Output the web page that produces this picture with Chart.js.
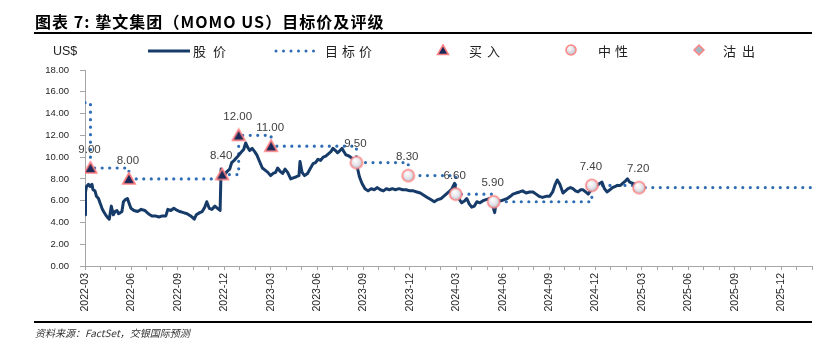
<!DOCTYPE html>
<html><head><meta charset="utf-8">
<script src="https://cdn.jsdelivr.net/npm/chart.js@4.4.1/dist/chart.umd.min.js"></script>
<style>
html,body{margin:0;padding:0;background:#fff;}
#wrap{position:relative;width:836px;height:354px;overflow:hidden;background:#fff;}
#c{position:absolute;left:0;top:0;}
.t{position:absolute;white-space:nowrap;}
#title{left:35px;top:11px;font:bold 16px 'Noto Sans CJK SC',sans-serif;color:#000;letter-spacing:1.05px;line-height:20px;}
.rule{position:absolute;left:34px;width:778px;height:2px;background:#000;}
.leg{top:42px;font:13px 'Noto Sans CJK SC',sans-serif;color:#222;line-height:18px;}
#unit{left:53px;top:43px;font:12.5px 'Liberation Sans',Arial,sans-serif;color:#222;line-height:16px;}
#src{left:35px;top:326px;font:italic 10px 'Noto Sans CJK SC',sans-serif;color:#333;line-height:14px;}
svg{position:absolute;}
</style></head>
<body><div id="wrap">
<canvas id="c" width="836" height="354"></canvas>
<div id="title" class="t">图表 7: 挚文集团（MOMO US）目标价及评级</div>
<div class="rule" style="top:32px"></div>
<div id="unit" class="t">US$</div>
<svg style="left:148px;top:48px" width="44" height="6"><line x1="0" y1="3" x2="42" y2="3" stroke="#173B69" stroke-width="3"/></svg>
<div class="t leg" style="left:193px;letter-spacing:7px">股价</div>
<svg style="left:274px;top:48px" width="46" height="6"><line x1="2" y1="3" x2="40" y2="3" stroke="#2E6DB4" stroke-width="3" stroke-linecap="round" stroke-dasharray="0 7.5"/></svg>
<div class="t leg" style="left:325px;letter-spacing:4px">目标价</div>
<svg style="left:436px;top:43px" width="14" height="14"><polygon points="7,2 12.5,11.5 1.5,11.5" fill="#1C2A5A" stroke="#FF7F80" stroke-width="1.5"/></svg>
<div class="t leg" style="left:469px;letter-spacing:5px">买入</div>
<svg style="left:564px;top:43px" width="14" height="14"><defs><radialGradient id="g1" cx="0.4" cy="0.35" r="0.7"><stop offset="0" stop-color="#ffffff"/><stop offset="1" stop-color="#b9b9c4"/></radialGradient></defs><circle cx="7" cy="7" r="5" fill="url(#g1)" stroke="#FF8585" stroke-width="1.5"/></svg>
<div class="t leg" style="left:598px;letter-spacing:4px">中性</div>
<svg style="left:692px;top:43px" width="14" height="14"><polygon points="7,2 12,7 7,12 2,7" fill="#A2B6C2" stroke="#FF8585" stroke-width="1.5"/></svg>
<div class="t leg" style="left:723px;letter-spacing:6px">沽出</div>
<div class="rule" style="top:321px"></div>
<div id="src" class="t">资料来源：FactSet，交银国际预测</div>
</div>
<script>
// ---------- DATA ----------
const priceDates = ['2022-03-01','2022-03-02','2022-03-04','2022-03-08','2022-03-11','2022-03-15','2022-03-17','2022-03-21','2022-03-24','2022-03-28','2022-03-31','2022-04-04','2022-04-07','2022-04-11','2022-04-14','2022-04-18','2022-04-20','2022-04-22','2022-04-26','2022-04-29','2022-05-03','2022-05-06','2022-05-10','2022-05-13','2022-05-16','2022-05-20','2022-05-24','2022-05-27','2022-05-31','2022-06-06','2022-06-13','2022-06-20','2022-06-27','2022-07-04','2022-07-11','2022-07-18','2022-07-25','2022-08-01','2022-08-08','2022-08-12','2022-08-18','2022-08-24','2022-08-31','2022-09-05','2022-09-12','2022-09-19','2022-09-26','2022-10-03','2022-10-07','2022-10-14','2022-10-19','2022-10-24','2022-10-28','2022-11-02','2022-11-07','2022-11-13','2022-11-18','2022-11-23','2022-11-25','2022-11-29','2022-12-02','2022-12-07','2022-12-12','2022-12-16','2022-12-21','2022-12-27','2023-01-03','2023-01-09','2023-01-13','2023-01-17','2023-01-21','2023-01-26','2023-01-31','2023-02-04','2023-02-09','2023-02-14','2023-02-19','2023-02-24','2023-03-01','2023-03-06','2023-03-11','2023-03-15','2023-03-20','2023-03-25','2023-03-30','2023-04-04','2023-04-10','2023-04-15','2023-04-21','2023-04-26','2023-04-28','2023-05-02','2023-05-07','2023-05-13','2023-05-18','2023-05-24','2023-05-29','2023-06-03','2023-06-08','2023-06-13','2023-06-18','2023-06-23','2023-06-28','2023-07-02','2023-07-07','2023-07-11','2023-07-16','2023-07-20','2023-07-24','2023-07-28','2023-08-03','2023-08-09','2023-08-15','2023-08-20','2023-08-24','2023-08-29','2023-09-04','2023-09-10','2023-09-16','2023-09-22','2023-09-28','2023-10-04','2023-10-10','2023-10-16','2023-10-22','2023-10-28','2023-11-03','2023-11-10','2023-11-17','2023-11-24','2023-12-01','2023-12-08','2023-12-15','2023-12-22','2023-12-29','2024-01-05','2024-01-12','2024-01-19','2024-01-26','2024-02-02','2024-02-09','2024-02-16','2024-02-22','2024-02-27','2024-03-01','2024-03-06','2024-03-12','2024-03-18','2024-03-22','2024-03-27','2024-04-01','2024-04-06','2024-04-11','2024-04-17','2024-04-23','2024-04-29','2024-05-06','2024-05-10','2024-05-16','2024-05-19','2024-05-24','2024-05-30','2024-06-04','2024-06-10','2024-06-16','2024-06-21','2024-06-27','2024-07-04','2024-07-10','2024-07-17','2024-07-24','2024-07-31','2024-08-06','2024-08-12','2024-08-19','2024-08-26','2024-09-02','2024-09-08','2024-09-13','2024-09-17','2024-09-22','2024-09-28','2024-10-03','2024-10-08','2024-10-13','2024-10-18','2024-10-23','2024-10-28','2024-11-02','2024-11-07','2024-11-12','2024-11-17','2024-11-21','2024-11-25','2024-11-30','2024-12-05','2024-12-10','2024-12-14','2024-12-19','2024-12-24','2024-12-30','2025-01-04','2025-01-09','2025-01-14','2025-01-20','2025-01-25','2025-01-30','2025-02-03','2025-02-07','2025-02-12','2025-02-17'];
const priceValues = [4.7,6.8,7.3,7.5,7.3,7.5,7.0,6.9,6.4,6.2,5.8,5.3,5.0,4.7,4.5,4.3,4.9,5.5,4.7,5.0,5.1,4.8,4.9,5.0,5.9,6.1,6.2,5.8,5.3,5.1,5.0,5.2,5.1,4.8,4.6,4.6,4.5,4.6,4.6,5.2,5.1,5.3,5.1,5.0,4.9,4.8,4.6,4.3,4.7,4.9,5.0,5.4,5.9,5.3,5.2,5.5,5.3,5.1,8.9,8.2,8.4,8.7,8.9,9.5,9.7,10.0,10.4,10.7,11.3,10.9,10.6,10.8,10.5,10.2,9.6,9.0,8.8,8.6,8.3,8.5,8.6,9.0,8.7,8.5,8.9,8.6,8.0,8.1,8.2,8.3,9.6,8.6,8.3,8.5,8.9,9.4,9.5,9.8,9.7,10.0,10.1,10.3,10.5,10.8,10.6,10.4,10.6,10.8,10.5,10.2,10.1,9.9,9.5,9.0,8.2,7.6,7.1,6.9,7.1,7.0,7.2,7.0,6.9,7.1,7.0,7.1,7.0,7.1,7.0,7.0,6.9,6.9,6.8,6.7,6.5,6.3,6.1,5.9,6.1,6.2,6.5,6.8,7.1,7.6,6.6,6.2,5.8,6.0,6.2,5.7,5.4,5.5,5.9,5.8,6.0,6.1,6.2,5.9,4.9,5.8,6.0,6.0,6.1,6.2,6.4,6.6,6.7,6.8,6.9,6.7,6.8,6.8,6.6,6.4,6.3,6.4,6.4,6.8,7.5,7.9,7.5,6.7,6.9,7.1,7.2,7.1,6.9,6.8,7.0,7.0,6.8,6.6,6.9,7.3,7.4,7.4,7.6,7.7,7.1,6.8,7.0,7.2,7.3,7.4,7.4,7.6,7.8,8.0,7.7,7.6,7.5];

// Target price (step line): date of change and new target
const targetDates  = ['2022-03-01','2022-03-12','2022-05-27','2022-11-27','2022-12-30','2023-03-02','2023-08-18','2023-11-28','2024-02-29','2024-05-14','2024-11-24','2025-02-24','2026-02-01'];
const targetValues = [15.0, 9.0, 8.0, 8.4, 12.0, 11.0, 9.5, 8.3, 6.6, 5.9, 7.4, 7.2, 7.2];

// Rating events
const buyDates   = ['2022-03-12','2022-05-27','2022-11-27','2022-12-30','2023-03-02'];
const buyTargets = [9.0, 8.0, 8.4, 12.0, 11.0];
const neutralDates   = ['2023-08-18','2023-11-28','2024-02-29','2024-05-14','2024-11-24','2025-02-24'];
const neutralTargets = [9.5, 8.3, 6.6, 5.9, 7.4, 7.2];

// Axis
const axisStart = '2022-03-01';
const axisEnd = '2026-02-01';
const yTicks = [0,2,4,6,8,10,12,14,16,18];

// ---------- HELPERS ----------
function toMonth(s){
  const [y,m,d] = s.split('-').map(Number);
  const dim = new Date(y, m, 0).getDate();
  return (y-2022)*12 + (m-3) + (d-1)/dim;
}
function monthLabel(v){
  const tot = v + 2; const y = 2022 + Math.floor(tot/12); const m = (tot % 12) + 1;
  return y + '-' + String(m).padStart(2,'0');
}
const pts = (ds, vs) => ds.map((d,i)=>({x: toMonth(d), y: vs[i]}));

function makeTri(){
  const c = document.createElement('canvas'); c.width = 16; c.height = 16;
  const g = c.getContext('2d');
  g.beginPath(); g.moveTo(8,2); g.lineTo(14.2,13); g.lineTo(1.8,13); g.closePath();
  g.fillStyle = '#1C2A5A'; g.fill();
  g.lineWidth = 1.6; g.strokeStyle = '#FF7F80'; g.lineJoin='miter'; g.stroke();
  return c;
}
function makeCirc(){
  const c = document.createElement('canvas'); c.width = 16; c.height = 16;
  const g = c.getContext('2d');
  const gr = g.createRadialGradient(6.5,5.5,0.5,8,8,7);
  gr.addColorStop(0,'#ffffff'); gr.addColorStop(0.55,'#e4e4ea'); gr.addColorStop(1,'#a9a9b6');
  g.beginPath(); g.arc(8,8,6,0,Math.PI*2); g.fillStyle = gr; g.fill();
  g.lineWidth = 1.6; g.strokeStyle = '#FF8585'; g.stroke();
  return c;
}

const labelPlugin = {
  id: 'markerLabels',
  afterDatasetsDraw(chart){
    const ctx = chart.ctx;
    ctx.save();
    ctx.font = '11.5px "Liberation Sans", Arial, sans-serif';
    ctx.fillStyle = '#404040';
    ctx.textAlign = 'center';
    ctx.textBaseline = 'middle';
    [0,1].forEach(di=>{
      const meta = chart.getDatasetMeta(di);
      const vals = chart.data.datasets[di].data;
      meta.data.forEach((el,i)=>{
        ctx.fillText(vals[i].y.toFixed(2), el.x - 1, el.y - 18.5);
      });
    });
    ctx.restore();
  }
};

const axisColor = '#A6A6A6';
new Chart(document.getElementById('c'), {
  type: 'line',
  data: { datasets: [
    { label:'买入', data: pts(buyDates, buyTargets), showLine:false, pointStyle: makeTri(), pointRadius:7, pointHoverRadius:7 },
    { label:'中性', data: pts(neutralDates, neutralTargets), showLine:false, pointStyle: makeCirc(), pointRadius:7, pointHoverRadius:7 },
    { label:'股价', data: pts(priceDates, priceValues), borderColor:'#173B69', borderWidth:3, pointRadius:0, tension:0, borderJoinStyle:'round' },
    { label:'目标价', data: pts(targetDates, targetValues), stepped:'before', borderColor:'#2E6DB4', borderWidth:3.2, borderCapStyle:'round', borderDash:[0,7.5], pointRadius:0 }
  ]},
  options: {
    responsive:false, animation:false, devicePixelRatio:1,
    layout:{ padding:{ left:0, right:24, top:70, bottom:28 } },
    plugins:{ legend:{display:false}, tooltip:{enabled:false} },
    scales:{
      x:{ type:'linear', min: toMonth(axisStart), max: toMonth(axisEnd),
          afterFit(s){ s.height = 60; },
          afterBuildTicks(s){ s.ticks = []; for(let v=0; v<=toMonth(axisEnd); v++) s.ticks.push({value:v}); },
          ticks:{ autoSkip:false, minRotation:90, maxRotation:90, padding:3,
                  callback:(v)=> (v % 3 === 0 && v <= 45) ? monthLabel(v) : '',
                  color:'#262626', font:{ family:'"Liberation Sans", Arial, sans-serif', size:10.5 } },
          grid:{ drawOnChartArea:false, drawTicks:true, tickLength:4, color:axisColor },
          border:{ color:axisColor, width:1 } },
      y:{ min:0, max:18,
          afterFit(s){ s.width = 85; },
          afterBuildTicks(s){ s.ticks = yTicks.map(v=>({value:v})); },
          ticks:{ padding:11, callback:(v)=> Number(v).toFixed(2), color:'#262626',
                  font:{ family:'"Liberation Sans", Arial, sans-serif', size:9.5 } },
          grid:{ drawOnChartArea:false, drawTicks:true, tickLength:5, color:axisColor },
          border:{ color:axisColor, width:1 } }
    }
  },
  plugins:[labelPlugin]
});
</script>
</body></html>
